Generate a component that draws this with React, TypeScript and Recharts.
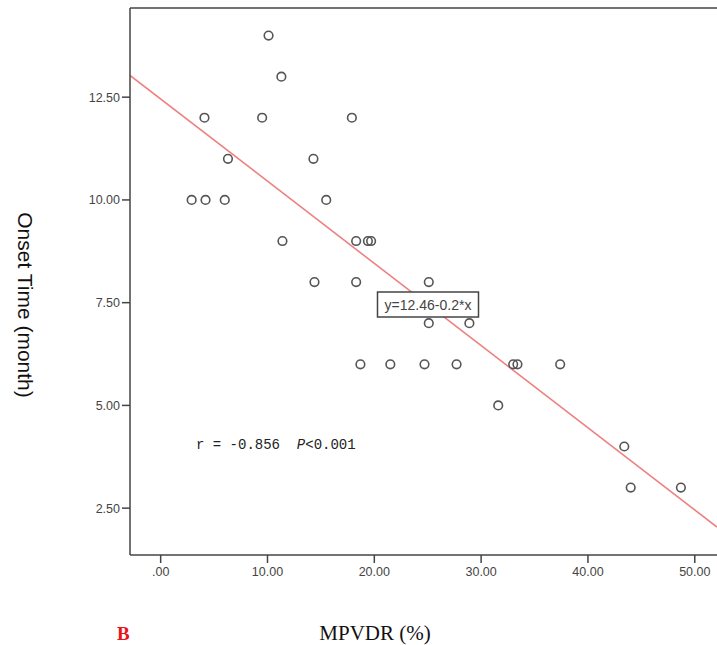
import React from 'react';
import {
  ScatterChart,
  Scatter,
  XAxis,
  YAxis,
  ReferenceLine,
} from 'recharts';

// MPVDR (%) values of the patients
const mpvdr = [
  10.1, 11.3,
  4.1, 9.5, 17.9,
  6.3, 14.3,
  2.9, 4.2, 6.0, 15.5,
  11.4, 18.3, 19.4, 19.7,
  14.4, 18.3, 25.1,
  25.1, 28.9,
  18.7, 21.5, 24.7, 27.7, 33.0, 33.4, 37.4,
  31.6,
  43.4,
  44.0, 48.7,
];

// onset time (month), same order
const onset = [
  14, 13,
  12, 12, 12,
  11, 11,
  10, 10, 10, 10,
  9, 9, 9, 9,
  8, 8, 8,
  7, 7,
  6, 6, 6, 6, 6, 6, 6,
  5,
  4,
  3, 3,
];

const xTicks = [0, 10, 20, 30, 40, 50];
const yTicks = [2.5, 5, 7.5, 10, 12.5];
const xDomain: [number, number] = [-2.87, 52.08];
const yDomain: [number, number] = [1.36, 14.67];

// fit line y = 12.46 - 0.2x, end points at the plot edges
const fitLine = [
  { x: -2.87, y: 13.03 },
  { x: 52.08, y: 2.04 },
];

const points = mpvdr.map((x, i) => ({ x, y: onset[i] }));

const axisColor = '#444';
const tickStyle = { fill: '#444', fontSize: 12.5, fontFamily: 'Liberation Sans, Arial, sans-serif' };

const OpenCircle = (props: any) => (
  <circle cx={props.cx} cy={props.cy} r={4.3} fill="none" stroke="#555" strokeWidth={1.6} />
);

export default function App() {
  return (
    <div style={{ position: 'absolute', left: 0, top: 0, width: 717, height: 645, overflow: 'hidden', background: '#fff' }}>
      <ScatterChart width={717} height={645} margin={{ top: 8, right: 0, left: 70, bottom: 60 }}>
        <XAxis
          type="number"
          dataKey="x"
          domain={xDomain}
          ticks={xTicks}
          allowDataOverflow
          height={30}
          tickSize={8}
          tickMargin={4}
          tick={tickStyle}
          stroke={axisColor}
          strokeWidth={1.5}
          tickFormatter={(v: number) => (v === 0 ? '.00' : v.toFixed(2))}
        />
        <YAxis
          type="number"
          dataKey="y"
          domain={yDomain}
          ticks={yTicks}
          allowDataOverflow
          width={60}
          tickSize={8}
          tickMargin={2}
          tick={tickStyle}
          stroke={axisColor}
          strokeWidth={1.5}
          tickFormatter={(v: number) => v.toFixed(2)}
        />
        <ReferenceLine y={yDomain[1]} stroke={axisColor} strokeWidth={1.5} />
        <ReferenceLine
          segment={fitLine}
          stroke="#ee8080"
          strokeWidth={1.6}
          ifOverflow="hidden"
        />
        <Scatter data={points} shape={OpenCircle} isAnimationActive={false} />
      </ScatterChart>

      <svg
        width={717}
        height={645}
        style={{ position: 'absolute', left: 0, top: 0, pointerEvents: 'none' }}
      >
        <rect x={377.5} y={292} width={101} height={25} fill="#fff" stroke="#444" strokeWidth={1.5} />
        <text
          x={428}
          y={309.5}
          textAnchor="middle"
          fontSize={14}
          fontFamily="Liberation Sans, Arial, sans-serif"
          fill="#444"
        >
          y=12.46-0.2*x
        </text>
        <text x={196} y={449} fontSize={14} fontFamily="Liberation Mono, monospace" fill="#222" xmlSpace="preserve">
          {'r = -0.856  '}<tspan fontStyle="italic">P</tspan>{'<0.001'}
        </text>
        <text
          x={0}
          y={0}
          transform="translate(25,305) rotate(90)"
          textAnchor="middle"
          dominantBaseline="central"
          fontSize={21}
          fontFamily="Liberation Sans, Arial, sans-serif"
          fill="#111"
        >
          Onset Time (month)
        </text>
        <text x={375} y={640} textAnchor="middle" fontSize={21} fontFamily="Liberation Serif, Times New Roman, serif" fill="#111">
          MPVDR (%)
        </text>
        <text x={117} y={640} fontSize={19} fontWeight="bold" fontFamily="Liberation Serif, Times New Roman, serif" fill="#e8141a">
          B
        </text>
      </svg>
    </div>
  );
}
